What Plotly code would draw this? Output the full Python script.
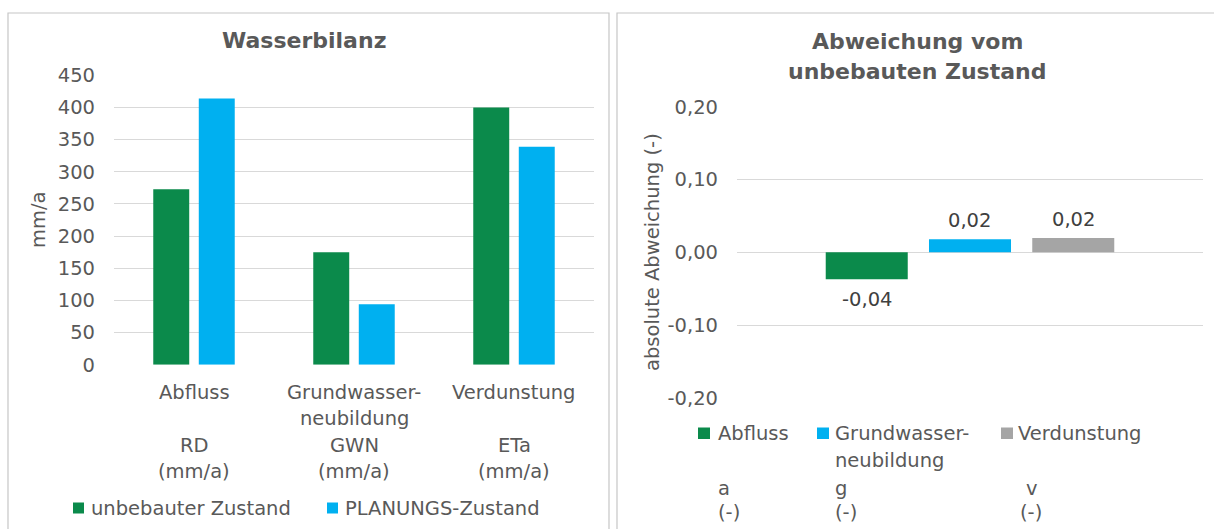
import plotly.graph_objects as go

# --- data -------------------------------------------------------------
categories = ["Abfluss", "Grundwasser-neubildung", "Verdunstung"]
category_lines = [["Abfluss", "", "RD", "(mm/a)"],
                  ["Grundwasser-", "neubildung", "GWN", "(mm/a)"],
                  ["Verdunstung", "", "ETa", "(mm/a)"]]
unbebaut = [273, 175, 400]
planung = [414, 94, 339]
balance_series = ["unbebauter Zustand", "PLANUNGS-Zustand"]
left_ticks = [0, 50, 100, 150, 200, 250, 300, 350, 400, 450]

deviation_names = ["Abfluss", "Grundwasser-", "Verdunstung"]
deviation_names_2 = ["", "neubildung", ""]
deviation_symbols = ["a", "g", "v"]
deviation_units = ["(-)", "(-)", "(-)"]
deviation_values = [-0.037, 0.018, 0.0195]
right_ticks = [-0.2, -0.1, 0.0, 0.1, 0.2]

# --- styling ----------------------------------------------------------
W, H = 1214, 529
GREEN, BLUE, GREY = "#0B8A4B", "#00B0F0", "#A5A5A5"
TXT = "#595959"
FONT = "DejaVu Sans"
FS = 19.5


def px(x):
    return x / W


def py(y):
    return 1 - y / H


def fmt(v):
    return f"{v:.2f}".replace(".", ",")


fig = go.Figure()

# left chart: water balance
for name, vals, col in zip(balance_series, [unbebaut, planung], [GREEN, BLUE]):
    fig.add_trace(go.Bar(x=categories, y=vals, name=name, marker_color=col,
                         marker_line_width=0, xaxis="x", yaxis="y",
                         showlegend=False))

# right chart: deviation from undeveloped state
slot, bar_w = 0.2216, 0.176
ann = []
for i, (name, val, col) in enumerate(zip(deviation_names, deviation_values,
                                          [GREEN, BLUE, GREY])):
    fig.add_trace(go.Bar(x=[0], y=[val], name=name,
                         marker_color=col, marker_line_width=0,
                         width=bar_w, offset=(i - 1) * slot - bar_w / 2,
                         xaxis="x2", yaxis="y2", showlegend=False))
    # value label just outside the bar end
    ann.append(dict(x=(i - 1) * slot, y=val, xref="x2", yref="y2",
                    text=fmt(val), showarrow=False, xanchor="center",
                    yanchor="bottom" if val >= 0 else "top",
                    yshift=5 if val >= 0 else -7,
                    font=dict(family=FONT, size=FS, color="#404040")))

axis_common = dict(showline=False, zeroline=False, ticks="", automargin=False,
                   tickfont=dict(family=FONT, size=FS, color=TXT))

fig.update_layout(
    template="none",
    width=W, height=H, autosize=False,
    margin=dict(l=0, r=0, t=0, b=0, pad=0),
    paper_bgcolor="white", plot_bgcolor="white",
    showlegend=False,
    barmode="group", bargap=0.431, bargroupgap=0.21,
    font=dict(family=FONT, size=FS, color=TXT),
    xaxis=dict(domain=[px(114), px(594)], anchor="y", showgrid=False,
               showticklabels=False, **axis_common),
    yaxis=dict(domain=[py(364.7), py(75.3)], anchor="x", range=[0, 450],
               tickvals=left_ticks, ticktext=[str(t) for t in left_ticks],
               showgrid=True, gridcolor="#D9D9D9", gridwidth=1,
               ticklabelstandoff=18, **axis_common),
    xaxis2=dict(domain=[px(737), px(1203)], anchor="y2", showgrid=False,
                showticklabels=False, range=[-0.5, 0.5], **axis_common),
    yaxis2=dict(domain=[py(397.9), py(106.7)], anchor="x2", range=[-0.2, 0.2],
                tickvals=right_ticks, ticktext=[fmt(t) for t in right_ticks],
                showgrid=True, gridcolor="#D9D9D9", gridwidth=1,
                ticklabelstandoff=18, **axis_common),
)

shapes = [
    # chart frames
    dict(type="rect", xref="paper", yref="paper", x0=px(8), x1=px(609),
         y0=py(545), y1=py(13), line=dict(color="#C6C6C6", width=1.2)),
    dict(type="rect", xref="paper", yref="paper", x0=px(617), x1=px(1230),
         y0=py(545), y1=py(13), line=dict(color="#C6C6C6", width=1.2)),
]


def text(x, y, s, anchor="center", size=FS, bold=False, angle=0, xref="paper"):
    ann.append(dict(x=x, y=py(y), xref=xref, yref="paper", text=s,
                    showarrow=False, xanchor=anchor, yanchor="middle",
                    textangle=angle,
                    font=dict(family=FONT, size=size, color=TXT,
                              weight="bold" if bold else "normal")))


# titles
text(px(303.5), 41, "Wasserbilanz", size=22, bold=True)
text(px(917.5), 42, "Abweichung vom", size=22, bold=True)
text(px(917.5), 72, "unbebauten Zustand", size=22, bold=True)

# axis titles
text(px(38), 220, "mm/a", angle=-90)
text(px(652), 252, "absolute Abweichung (-)", angle=-90)

# category labels of the left chart
line_y = [392, 418.5, 445, 471.5]
for cat, lines in zip(categories, category_lines):
    for ly, s in zip(line_y, lines):
        if s:
            text(cat, ly, s, xref="x")

# legend of the left chart
leg_left = [(73, 89), (327, 343)]
for (sx, tx), name, col in zip(leg_left, balance_series, [GREEN, BLUE]):
    shapes.append(dict(type="rect", xref="paper", yref="paper",
                       x0=px(sx), x1=px(sx + 11), y0=py(513.5), y1=py(502.5),
                       fillcolor=col, line_width=0))
    text(px(tx), 508, name, anchor="left")

# legend of the right chart
leg_right = [(698, 716), (817, 833), (1001, 1016)]
sym_x = [(716, 716), (833, 833), (1024, 1018)]
for (sx, tx), (ax, ux), n1, n2, sym, unit, col in zip(
        leg_right, sym_x, deviation_names, deviation_names_2,
        deviation_symbols, deviation_units, [GREEN, BLUE, GREY]):
    shapes.append(dict(type="rect", xref="paper", yref="paper",
                       x0=px(sx), x1=px(sx + 12), y0=py(439), y1=py(427.5),
                       fillcolor=col, line_width=0))
    text(px(tx), 433, n1, anchor="left")
    if n2:
        text(px(tx), 460, n2, anchor="left")
    text(px(ax), 488, sym, anchor="left")
    text(px(ux), 512, unit, anchor="left")

fig.update_layout(shapes=shapes, annotations=ann)
fig.write_html("out.html")
